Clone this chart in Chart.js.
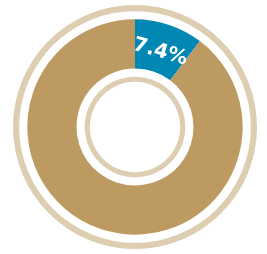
<!DOCTYPE html>
<html>
<head>
<meta charset="utf-8">
<script src="https://cdn.jsdelivr.net/npm/chart.js@4.4.1/dist/chart.umd.min.js"></script>
<style>
  html, body { margin: 0; padding: 0; background: #ffffff; }
  #wrap { width: 267px; height: 254px; }
</style>
</head>
<body>
<div id="wrap"><canvas id="donut" width="267" height="254"></canvas></div>
<script>
const segmentNames = ["Highlighted", "Rest"];
const segmentSizes = [10.3, 89.7];
const segmentLabels = ["7.4%", ""];
const segmentColors = ["#0087b4", "#bc9a62"];
const ringColor = "#ddcdb1";

const sliceLabels = {
  id: "sliceLabels",
  afterDatasetsDraw(chart) {
    const ctx = chart.ctx;
    const meta = chart.getDatasetMeta(2);
    meta.data.forEach(function (arc, i) {
      const text = segmentLabels[i];
      if (!text) return;
      const p = arc.getProps(["x", "y", "startAngle", "endAngle", "innerRadius", "outerRadius"], true);
      const mid = (p.startAngle + p.endAngle) / 2;
      const r = (p.innerRadius + p.outerRadius) / 2 - 3;
      ctx.save();
      ctx.translate(p.x + Math.cos(mid) * r, p.y + Math.sin(mid) * r);
      // text is tilted a bit less than the slice itself
      ctx.rotate((mid + Math.PI / 2) * 0.85);
      ctx.fillStyle = "#ffffff";
      ctx.font = "bold 20px 'DejaVu Sans'";
      ctx.textAlign = "center";
      ctx.textBaseline = "middle";
      ctx.fillText(text, 0, 1);
      ctx.restore();
    });
  }
};

new Chart(document.getElementById("donut"), {
  type: "doughnut",
  data: {
    labels: segmentNames,
    datasets: [
      { data: [1], backgroundColor: [ringColor], borderWidth: 0, weight: 6 },
      { data: [1], backgroundColor: ["rgba(0,0,0,0)"], borderWidth: 0, weight: 8 },
      { data: segmentSizes, backgroundColor: segmentColors, borderWidth: 0, weight: 48 },
      { data: [1], backgroundColor: ["rgba(0,0,0,0)"], borderWidth: 0, weight: 8 },
      { data: [1], backgroundColor: [ringColor], borderWidth: 0, weight: 5 }
    ]
  },
  options: {
    responsive: false,
    animation: false,
    radius: 122,
    cutout: 47,
    layout: { padding: { left: 3 } },
    plugins: {
      legend: { display: false },
      tooltip: { enabled: false }
    }
  },
  plugins: [sliceLabels]
});
</script>
</body>
</html>
